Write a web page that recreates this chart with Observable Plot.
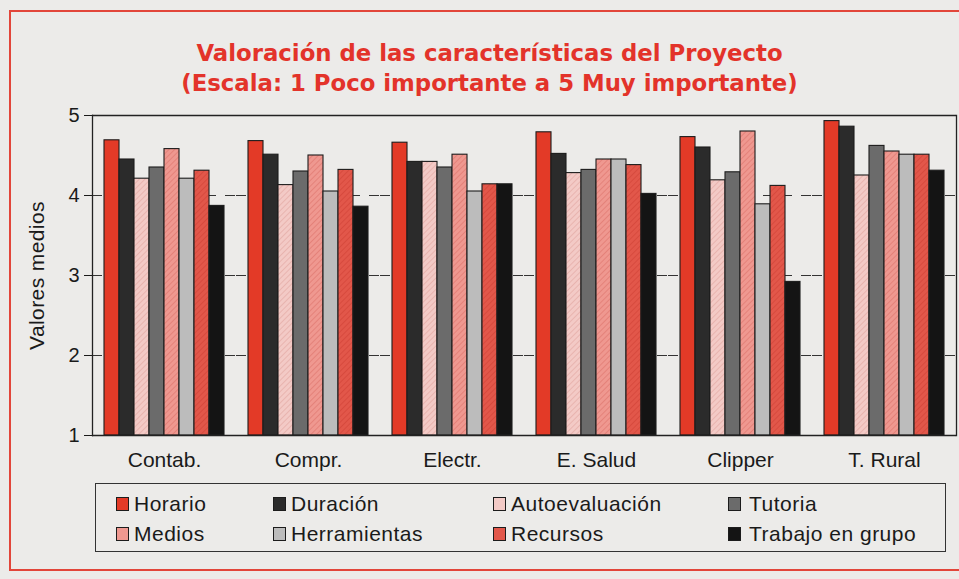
<!DOCTYPE html>
<html>
<head>
<meta charset="utf-8">
<script src="https://cdn.jsdelivr.net/npm/d3@7"></script>
<script src="https://cdn.jsdelivr.net/npm/@observablehq/plot@0.6"></script>
<style>
  html, body { margin: 0; padding: 0; background: #ecebe9; }
  #wrap { position: relative; width: 959px; height: 579px; overflow: hidden; background: #ecebe9;
          font-family: "Liberation Sans", Arial, Helvetica, sans-serif; color: #1a1a1a; }
  #border { position: absolute; left: 9px; top: 10px; width: 970px; height: 561px;
            border: 2px solid #e2463a; box-sizing: border-box; }
  #title { position: absolute; left: 0; width: 979px; top: 38px; text-align: center;
           color: #e3332a; font-family: "DejaVu Sans", sans-serif; font-weight: bold; font-size: 22.8px; line-height: 30px; }
  #chart { position: absolute; left: 0; top: 0; }
  #legend { position: absolute; left: 95px; top: 483px; width: 851px; height: 69px;
            border: 1.5px solid #333; box-sizing: border-box; }
  .item { position: absolute; font-size: 21px; letter-spacing: 0.5px; line-height: 24px; white-space: nowrap; }
  .sw { position: absolute; width: 11px; height: 12px; border: 1.3px solid #1c1c1c; top: 5px; left: 0; }
  .lab { position: absolute; top: 0; }
</style>
</head>
<body>
<div id="wrap">
  <div id="border"></div>
  <div id="title">Valoración de las características del Proyecto<br>(Escala: 1 Poco importante a 5 Muy importante)</div>
  <div id="chart"></div>
  <div id="legend"></div>
</div>
<script>
const categories = ["Contab.", "Compr.", "Electr.", "E. Salud", "Clipper", "T. Rural"];
const series = ["Horario", "Duración", "Autoevaluación", "Tutoria", "Medios", "Herramientas", "Recursos", "Trabajo en grupo"];

const horario        = [4.69, 4.68, 4.66, 4.79, 4.73, 4.93];
const duracion       = [4.45, 4.51, 4.42, 4.52, 4.60, 4.86];
const autoevaluacion = [4.21, 4.13, 4.42, 4.28, 4.19, 4.25];
const tutoria        = [4.35, 4.30, 4.35, 4.32, 4.29, 4.62];
const medios         = [4.58, 4.50, 4.51, 4.45, 4.80, 4.55];
const herramientas   = [4.21, 4.05, 4.05, 4.45, 3.89, 4.51];
const recursos       = [4.31, 4.32, 4.14, 4.38, 4.12, 4.51];
const trabajo        = [3.87, 3.86, 4.14, 4.02, 2.92, 4.31];

const yTicks = [1, 2, 3, 4, 5];
const gridTicks = [2, 3, 4];
const frameTicks = [1, 5];

const seriesValues = [horario, duracion, autoevaluacion, tutoria, medios, herramientas, recursos, trabajo];
const baseColors = ["#e33a27", "#2b2b2b", "#f3cac6", "#6b6b6b", "#ef9890", "#bcbcbc", "#e2574a", "#141414"];
const hatch = [null, null, "#e6aea9", null, "#e27c74", null, "#d4463a", null];

const data = [];
categories.forEach((c, i) => series.forEach((s, j) => data.push({category: c, series: s, value: seriesValues[j][i]})));

const fillOf = series.map((s, j) => hatch[j] ? `url(#hatch${j})` : baseColors[j]);

const svg = Plot.plot({
  width: 959,
  height: 480,
  marginLeft: 91,
  marginRight: 3,
  marginTop: 115,
  marginBottom: 45,
  style: {background: "transparent", fontFamily: "'Liberation Sans', Arial, Helvetica, sans-serif", fontSize: "20px", color: "#1a1a1a", overflow: "visible"},
  fx: {domain: categories, padding: 0, label: null},
  x: {domain: series, paddingInner: 0, paddingOuter: 0.55, axis: null},
  y: {domain: [1, 5], label: "Valores medios"},
  marks: [
    Plot.gridY(gridTicks, {stroke: "#333", strokeOpacity: 1, strokeDasharray: "10,9", strokeWidth: 1.2}),
    ...series.map((s, j) => Plot.barY(data.filter(d => d.series === s), {
      fx: "category", x: "series", y1: 1, y2: "value",
      fill: fillOf[j], stroke: "#1c1c1c", strokeWidth: 1.1
    })),
    Plot.ruleY(frameTicks, {stroke: "#222", strokeWidth: 1.3}),
    Plot.frame({anchor: "left", facetAnchor: "left", stroke: "#222", strokeWidth: 1.3}),
    Plot.frame({anchor: "right", facetAnchor: "right", stroke: "#222", strokeWidth: 1.3}),
    Plot.axisY(yTicks, {tickSize: 8, tickPadding: 5, fontSize: 20, tickFormat: "d", label: "Valores medios", labelAnchor: "center", labelArrow: "none", labelOffset: 63}),
    Plot.axisFx({anchor: "bottom", tickSize: 0, tickPadding: 17, fontSize: 21, label: null, style: {letterSpacing: "0.5px"}})
  ]
});

// enlarge the y-axis title to match the reference
d3.select(svg).selectAll("text").filter(function() { return this.textContent === "Valores medios"; })
  .attr("font-size", 21).style("letter-spacing", "0.4px");

const defs = d3.select(svg).insert("defs", ":first-child");
series.forEach((s, j) => {
  if (!hatch[j]) return;
  const p = defs.append("pattern").attr("id", `hatch${j}`).attr("patternUnits", "userSpaceOnUse")
    .attr("width", 4).attr("height", 4).attr("patternTransform", "rotate(45)");
  p.append("rect").attr("width", 4).attr("height", 4).attr("fill", baseColors[j]);
  p.append("line").attr("x1", 0).attr("y1", 0).attr("x2", 0).attr("y2", 4).attr("stroke", hatch[j]).attr("stroke-width", 1.6);
});

document.getElementById("chart").appendChild(svg);

// legend
const legend = document.getElementById("legend");
const colX = [20, 177, 397, 632];
const rowY = [8, 38];
series.forEach((s, j) => {
  const item = document.createElement("div");
  item.className = "item";
  item.style.left = colX[j % 4] + "px";
  item.style.top = rowY[Math.floor(j / 4)] + "px";
  const sw = document.createElement("span");
  sw.className = "sw";
  sw.style.background = baseColors[j];
  const lab = document.createElement("span");
  lab.className = "lab";
  lab.style.left = (j % 4 === 3 ? 21 : 18) + "px";
  lab.textContent = s;
  item.appendChild(sw);
  item.appendChild(lab);
  legend.appendChild(item);
});
</script>
</body>
</html>
